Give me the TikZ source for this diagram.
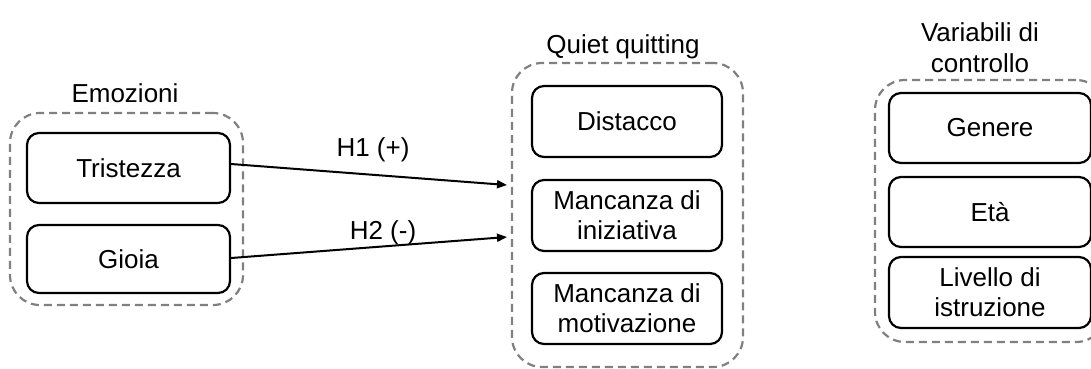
\documentclass[tikz,border=0pt]{standalone}
\usepackage{fontspec}
\setmainfont{Liberation Sans}
\usetikzlibrary{arrows.meta}
\begin{document}
\begin{tikzpicture}[x=1pt,y=-1pt,
  every node/.style={font=\fontsize{26}{30}\selectfont, inner sep=0pt},
  varbox/.style={draw=black, line width=2.2pt, rounded corners=12pt,
    minimum width=200pt, minimum height=70pt, align=center},
  group/.style={draw=black!50, line width=2.2pt, dash pattern=on 8pt off 5pt,
    rounded corners=30pt},
  link/.style={line width=2pt, -{Triangle[length=10pt,width=8pt]}},
  title/.style={align=center}]
\useasboundingbox (0,0) rectangle (1091,368);

% Emozioni
\node[group, minimum width=233pt, minimum height=192pt] (gemo) at (126.5,209) {};
\node[title] (temo) at (125,93) {Emozioni};
\node[varbox, minimum width=203pt] (tri) at (128.5,168) {Tristezza};
\node[varbox, minimum width=203pt, minimum height=68pt] (gio) at (128.5,259) {Gioia};

% Quiet quitting
\node[group, minimum width=231pt, minimum height=304pt] (gqq) at (627.5,215) {};
\node[title] (tqq) at (623,47) {Quiet quitting};
\node[varbox, minimum width=190pt, minimum height=71pt] (dis) at (627,121.5) {Distacco};
\node[varbox, minimum width=190pt, minimum height=71pt] (ini) at (627,215.5) {Mancanza di\\iniziativa};
\node[varbox, minimum width=190pt, minimum height=71pt] (mot) at (627,308.5) {Mancanza di\\motivazione};

% Variabili di controllo
\node[group, minimum width=231pt, minimum height=262pt] (gvar) at (990.5,211) {};
\node[title] (tvar) at (980,48) {Variabili di\\[1pt]controllo};
\node[varbox, minimum width=202pt] (gen) at (990,128) {Genere};
\node[varbox, minimum width=202pt] (eta) at (990,212) {Età};
\node[varbox, minimum width=202pt, minimum height=71pt] (liv) at (990,292.5) {Livello di\\istruzione};

% Hypotheses
\coordinate (h1end) at (507,185);
\coordinate (h2end) at (507,237);
\draw[link] ([yshift=4pt]tri.east) -- (h1end);
\draw[link] ([yshift=1pt]gio.east) -- (h2end);
\node (lh1) at (373,150) {H1 (+)};
\node (lh2) at (383,233) {H2 (-)};
\end{tikzpicture}
\end{document}
